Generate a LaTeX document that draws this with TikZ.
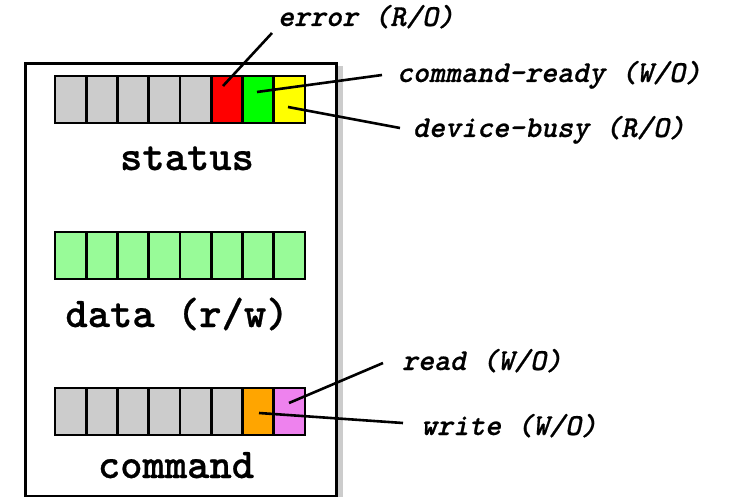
\documentclass[tikz,border=0pt]{standalone}
\usepackage{fontspec}
\newfontfamily\courfont{lmmonolt10-bold.otf}[FakeBold=0.6]
\newfontfamily\courslant{lmmonolt10-bold.otf}[FakeSlant=0.21,FakeBold=0.6]
\begin{document}
\begin{tikzpicture}[x=1pt,y=-1pt,
  cell/.style={draw=black,line width=2.6pt,minimum width=31.25pt,minimum height=47pt,inner sep=0pt,outer sep=0pt},
  regtitle/.style={font=\courfont\fontsize{42.5}{44}\selectfont,anchor=base,inner sep=0pt},
  lbl/.style={font=\courslant\fontsize{30.5}{32}\selectfont,anchor=base,inner sep=0pt},
  conn/.style={draw=black,line width=2.6pt}]
\useasboundingbox (0,0) rectangle (733,497);
\definecolor{cgray}{RGB}{204,204,204}
\definecolor{cred}{RGB}{255,0,0}
\definecolor{cgreen}{RGB}{0,255,0}
\definecolor{cyellow}{RGB}{255,255,0}
\definecolor{cdata}{RGB}{152,251,152}
\definecolor{corange}{RGB}{255,165,0}
\definecolor{cviolet}{RGB}{238,130,238}
% shadow and box
\fill[cgray] (31,66) rectangle (343,505);
\node[draw=black,fill=white,line width=3pt,minimum width=311pt,minimum height=433pt,inner sep=0pt,anchor=north west] (box) at (24,62) {};
% status register
\foreach \i/\c in {1/cgray,2/cgray,3/cgray,4/cgray,5/cgray,6/cred,7/cgreen,8/cyellow}{
  \node[cell,fill=\c] (s\i) at ({55+31.25*(\i-0.5)},99.5) {};
}
% data register
\foreach \i in {1,...,8}{
  \node[cell,fill=cdata] (d\i) at ({55+31.25*(\i-0.5)},255.5) {};
}
% command register
\foreach \i/\c in {1/cgray,2/cgray,3/cgray,4/cgray,5/cgray,6/cgray,7/corange,8/cviolet}{
  \node[cell,fill=\c] (c\i) at ({55+31.25*(\i-0.5)},411.5) {};
}
% titles
\node[regtitle] (tstatus) at (187,170) {status};
\node[regtitle] (tdata) at (177,327) {data (r/w)};
\node[regtitle] (tcmd) at (176,478) {command};
% labels
\node[lbl] (lerr) at (366,26) {error (R/O)};
\node[lbl] (lrdy) at (549,82) {command-ready (W/O)};
\node[lbl] (lbusy) at (549,137) {device-busy (R/O)};
\node[lbl] (lread) at (482,370) {read (W/O)};
\node[lbl] (lwrite) at (509,435) {write (W/O)};
% connector ends
\coordinate (aerr) at (272,33);
\coordinate (berr) at (223,86);
\coordinate (ardy) at (382,75);
\coordinate (brdy) at (257,92);
\coordinate (abusy) at (400,128);
\coordinate (bbusy) at (288,107);
\coordinate (aread) at (383,363);
\coordinate (bread) at (289,403);
\coordinate (awrite) at (403,423);
\coordinate (bwrite) at (259,413);
\draw[conn] (aerr) -- (berr);
\draw[conn] (ardy) -- (brdy);
\draw[conn] (abusy) -- (bbusy);
\draw[conn] (aread) -- (bread);
\draw[conn] (awrite) -- (bwrite);
\end{tikzpicture}
\end{document}
